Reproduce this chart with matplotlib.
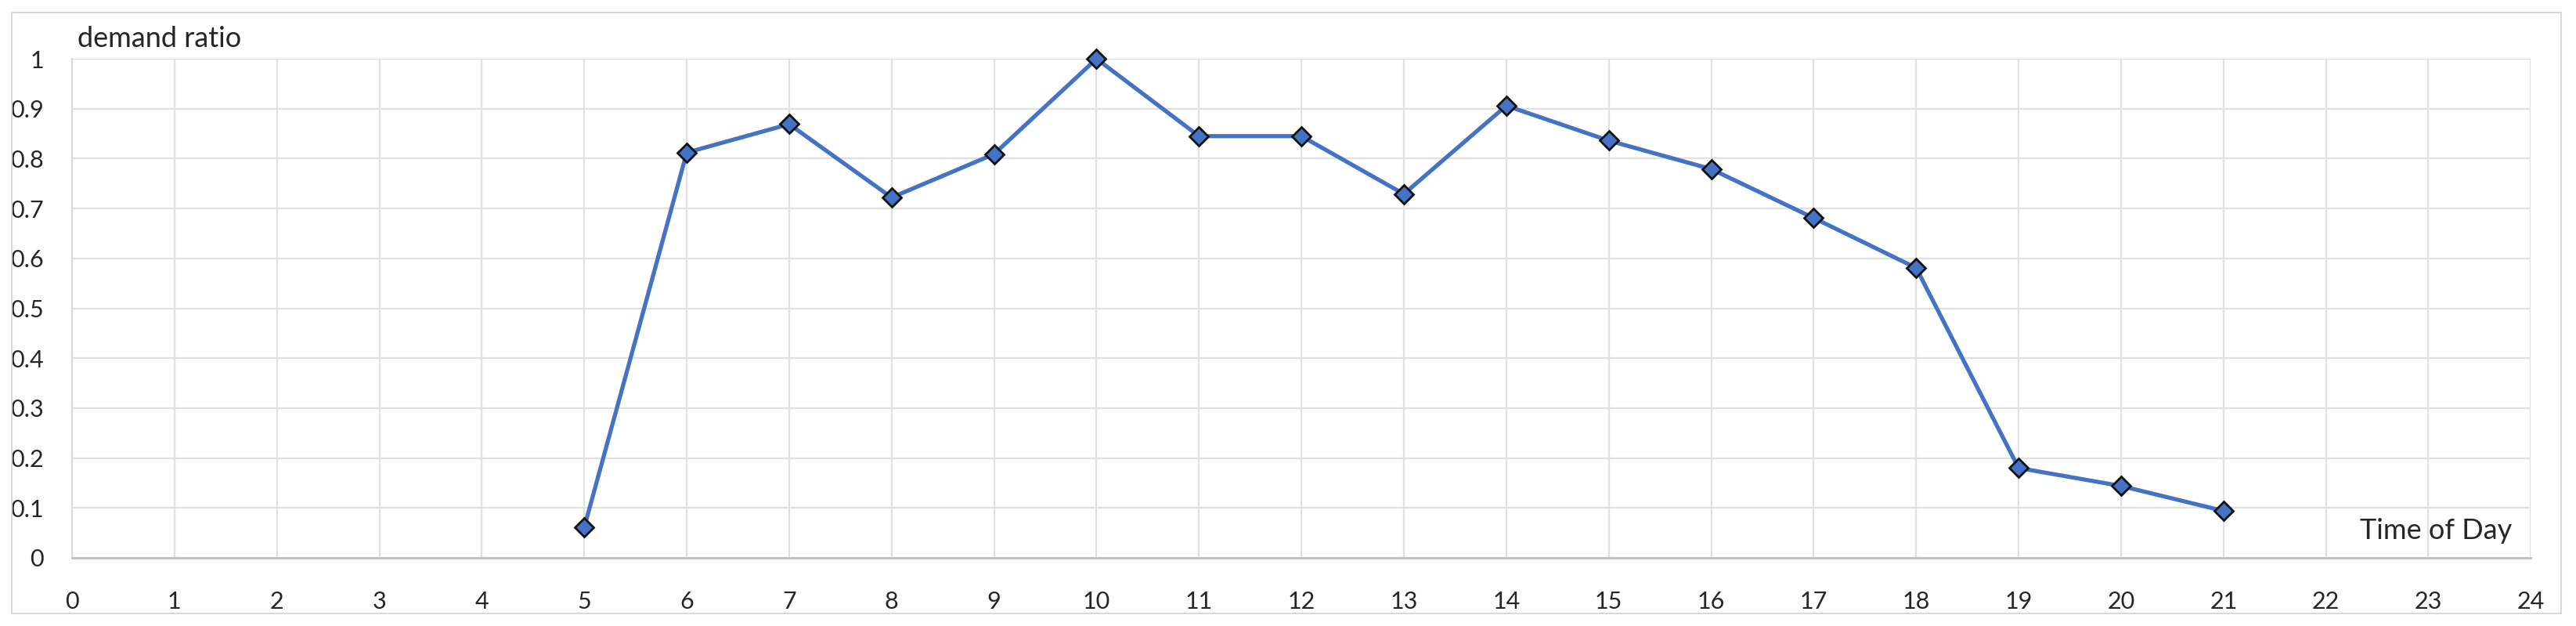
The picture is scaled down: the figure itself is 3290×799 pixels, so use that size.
import numpy as np
from matplotlib import pyplot as plt
from matplotlib.patches import Rectangle

plt.rcParams['font.family'] = ['Lato', 'DejaVu Sans']

hours = [5, 6, 7, 8, 9, 10, 11, 12, 13, 14, 15, 16, 17, 18, 19, 20, 21]
demand = [0.061, 0.812, 0.869, 0.722, 0.809, 1.0, 0.845, 0.845, 0.729, 0.906,
          0.836, 0.779, 0.681, 0.581, 0.180, 0.144, 0.094]

x_ticks = list(range(0, 25))
y_ticks = [0, 0.1, 0.2, 0.3, 0.4, 0.5, 0.6, 0.7, 0.8, 0.9, 1]
y_labels = ['0', '0.1', '0.2', '0.3', '0.4', '0.5', '0.6', '0.7', '0.8', '0.9', '1']

fig = plt.figure(figsize=(32.9, 7.99), dpi=100)
fig.patches.append(Rectangle((0.0046, 0.02), 0.9896, 0.96, transform=fig.transFigure,
                             fill=False, edgecolor='#d9d9d9', linewidth=1.5))

ax = fig.add_axes([0.02796, 0.1089, 0.9545, 0.7972])
ax.plot(hours, demand, color='#4472c4', linewidth=3.8, marker='D', markersize=12.5,
        markerfacecolor='#4472c4', markeredgecolor='#111111', markeredgewidth=2,
        zorder=3, clip_on=False)

ax.set_xlim(0, 24)
ax.set_ylim(0, 1)
ax.set_xticks(x_ticks)
ax.set_yticks(y_ticks)
ax.set_yticklabels(y_labels)
ax.grid(True, color='#e0e0e0', linewidth=1.6)
ax.set_axisbelow(True)
ax.tick_params(length=0, labelsize=22, colors='#262626')
ax.tick_params(axis='x', pad=30)
ax.tick_params(axis='y', pad=26)

for side in ['top', 'right']:
    ax.spines[side].set_visible(False)
ax.spines['left'].set_color('#d9d9d9')
ax.spines['left'].set_linewidth(1.6)
ax.spines['bottom'].set_color('#bfbfbf')
ax.spines['bottom'].set_linewidth(2)

fig.text(99 / 3290, 1 - 50 / 799, 'demand ratio', fontsize=26, color='#262626',
         ha='left', va='center')
fig.text(3208 / 3290, 1 - 678 / 799, 'Time of Day', fontsize=26, color='#262626',
         ha='right', va='center')

plt.savefig('out.png', dpi=100)
